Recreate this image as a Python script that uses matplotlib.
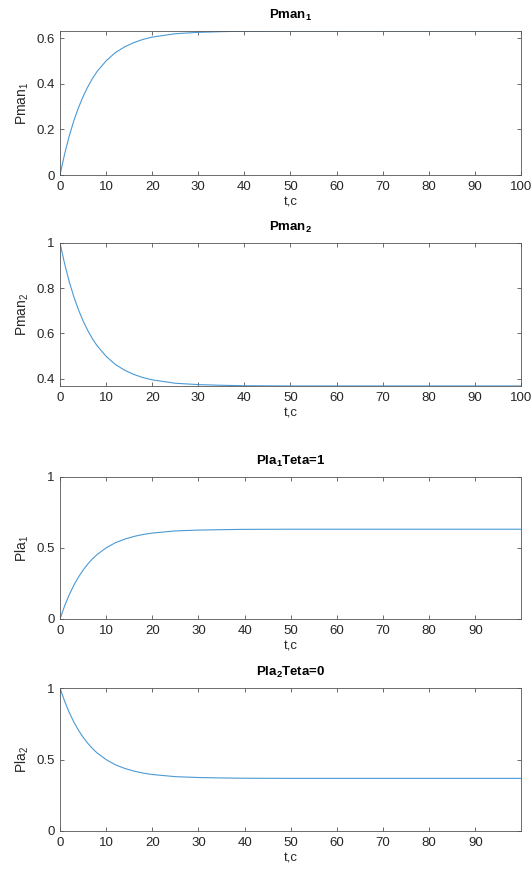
import numpy as np
import matplotlib.pyplot as plt

plt.rcParams['font.family'] = ['Liberation Sans', 'DejaVu Sans']
plt.rcParams['mathtext.fontset'] = 'custom'
plt.rcParams['mathtext.rm'] = 'Liberation Sans'
plt.rcParams['mathtext.it'] = 'Liberation Sans'
plt.rcParams['mathtext.bf'] = 'Liberation Sans:bold'
plt.rcParams['font.size'] = 10

# values
t = [0, 1, 2, 3, 4, 5, 6, 7, 8, 10, 12, 14, 16, 18, 20, 25, 30, 35, 40,
     50, 60, 70, 80, 90, 100]
pman1 = [0.0, 0.092, 0.171, 0.238, 0.295, 0.344, 0.386, 0.422, 0.453, 0.501,
         0.537, 0.562, 0.581, 0.595, 0.605, 0.620, 0.626, 0.629, 0.631,
         0.632, 0.632, 0.632, 0.632, 0.632, 0.632]
pman2 = [1.0, 0.908, 0.829, 0.762, 0.705, 0.656, 0.614, 0.578, 0.547, 0.499,
         0.463, 0.438, 0.419, 0.405, 0.395, 0.380, 0.374, 0.371, 0.369,
         0.368, 0.368, 0.368, 0.368, 0.368, 0.368]
pla1 = pman1
pla2 = pman2

panels = [
    (pman1, r'Pman$_\mathbf{1}$', r'Pman$_1$', (0, 0.632), [0, 0.2, 0.4, 0.6], ['0', '0.2', '0.4', '0.6'], 100),
    (pman2, r'Pman$_\mathbf{2}$', r'Pman$_2$', (0.368, 1), [0.4, 0.6, 0.8, 1], ['0.4', '0.6', '0.8', '1'], 100),
    (pla1, r'Pla$_\mathbf{1}$Teta=1', r'Pla$_1$', (0, 1), [0, 0.5, 1], ['0', '0.5', '1'], 99.9),
    (pla2, r'Pla$_\mathbf{2}$Teta=0', r'Pla$_2$', (0, 1), [0, 0.5, 1], ['0', '0.5', '1'], 99.9),
]

# axes boxes in figure fractions
boxes = [
    [0.1128, 0.800, 0.8665, 0.1646],
    [0.1128, 0.5589, 0.8665, 0.1634],
    [0.1128, 0.2926, 0.8665, 0.1623],
    [0.1128, 0.0503, 0.8665, 0.1634],
]

fig = plt.figure(figsize=(5.32, 8.75), dpi=100)
edge = '#555555'
for (y, title, ylab, ylim, yt, ytl, xmax), box in zip(panels, boxes):
    ax = fig.add_axes(box)
    ax.plot(t, y, color='#4a9ad6', linewidth=0.8)
    ax.set_xlim(0, xmax)
    ax.set_ylim(*ylim)
    if xmax >= 100:
        ax.set_xticks(range(0, 101, 10))
    else:
        ax.set_xticks(range(0, 91, 10))
    ax.set_yticks(yt)
    ax.set_yticklabels(ytl)
    ax.tick_params(direction='in', top=True, right=True, length=3, width=0.6,
                   colors=edge, labelcolor='#262626', labelsize=9.5, pad=4)
    for s in ax.spines.values():
        s.set_color(edge)
        s.set_linewidth(0.6)
    ax.set_title(title, fontsize=9.5, fontweight='bold', pad=9, color='#000000')
    ax.set_xlabel('t,c', fontsize=9.5, color='#262626', labelpad=3)
    ax.set_ylabel(ylab, fontsize=10, color='#262626', labelpad=4)

fig.savefig('out.png', dpi=100)
